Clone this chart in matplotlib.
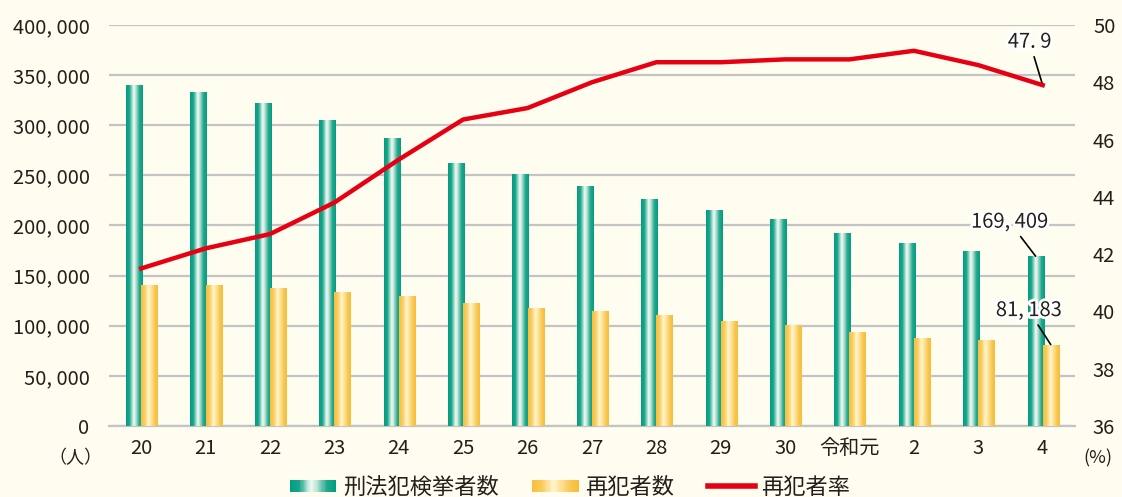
import numpy as np
import matplotlib
matplotlib.use('Agg')
import matplotlib.pyplot as plt
from matplotlib.colors import LinearSegmentedColormap
from matplotlib.legend_handler import HandlerBase
from matplotlib.patches import Rectangle
from matplotlib.lines import Line2D
import matplotlib.patheffects as pe

plt.rcParams['font.family'] = ['Noto Sans CJK JP', 'DejaVu Sans']

years = ['20', '21', '22', '23', '24', '25', '26', '27', '28', '29', '30', '令和元', '2', '3', '4']
arrested = [339752, 332888, 322620, 305631, 287021, 262486, 251115, 239355,
            226376, 215003, 206094, 192607, 182582, 175041, 169409]
repeat = [140939, 140431, 137614, 133724, 130077, 122638, 117795, 114944,
          111205, 104774, 100601, 93967, 88143, 86034, 81183]
rate = [41.5, 42.2, 42.7, 43.8, 45.3, 46.7, 47.1, 48.0, 48.7, 48.7, 48.8, 48.8, 49.1, 48.6, 47.9]

bg = '#fffdef'
red = '#e60012'
txt = '#231f1c'
green_cm = LinearSegmentedColormap.from_list('g', [
    (0, '#009e80'), (0.2, '#1aa68a'), (0.45, '#f0faf5'), (0.55, '#cfeadf'),
    (0.8, '#22a88c'), (1, '#009e80')])
yellow_cm = LinearSegmentedColormap.from_list('y', [
    (0, '#f7bf3f'), (0.2, '#f9cc5c'), (0.45, '#fff6cf'), (0.6, '#fde39a'),
    (0.85, '#f8c54b'), (1, '#f6bd3d')])


def fill_gradient(ax, bars, cmap):
    grad = np.linspace(0, 1, 64).reshape(1, -1)
    for b in bars:
        x0, y0 = b.get_x(), b.get_y()
        w, h = b.get_width(), b.get_height()
        im = ax.imshow(grad, cmap=cmap, aspect='auto', extent=(x0, x0 + w, y0, y0 + h),
                       zorder=b.get_zorder() + 0.1, interpolation='bilinear')
        im.set_clip_path(b)
        b.set_facecolor('none')
        b.set_edgecolor('none')


class GradientHandle:
    def __init__(self, cmap):
        self.cmap = cmap


class HandlerGradient(HandlerBase):
    def create_artists(self, legend, orig_handle, xdescent, ydescent, width, height, fontsize, trans):
        n = 40
        hh = height * 0.75
        y0 = -ydescent + (height - hh) / 2
        arts = []
        for i in range(n):
            r = Rectangle((-xdescent + width * i / n, y0), width / n * 1.05, hh,
                          facecolor=orig_handle.cmap(i / (n - 1)), edgecolor='none', transform=trans)
            arts.append(r)
        return arts


fig = plt.figure(figsize=(11.22, 4.97), dpi=100, facecolor=bg)
ax = fig.add_axes([0.0971, 0.1429, 0.8609, 0.8068], facecolor=bg)
ax2 = ax.twinx()

x = np.arange(len(years))
bw = 0.25
b1 = ax.bar(x - 0.11, arrested, width=bw, zorder=3)
b2 = ax.bar(x + 0.125, repeat, width=bw, zorder=3)
fill_gradient(ax, b1, green_cm)
fill_gradient(ax, b2, yellow_cm)

ax.set_xlim(-0.5, len(years) - 0.5)
ax.set_ylim(0, 400000)
yt = np.arange(0, 400001, 50000)
ax.set_yticks(yt)
ax.set_yticklabels(['{:,}'.format(v).replace(',', ', ') for v in yt])
ax.set_xticks(x)
ax.set_xticklabels(years)
ax.grid(axis='y', color='#c4c4c4', lw=1.6, zorder=0)
ax.set_axisbelow(True)
for s in ['top', 'right', 'left']:
    ax.spines[s].set_visible(False)
    ax2.spines[s].set_visible(False)
ax.spines['bottom'].set_color('#c4c4c4')
ax.spines['bottom'].set_linewidth(1.6)
ax2.spines['bottom'].set_visible(False)
ax.tick_params(axis='y', length=0, pad=14, labelsize=14.5, labelcolor=txt)
ax.tick_params(axis='x', length=0, pad=9, labelsize=14.5, labelcolor=txt)

ax2.plot(x, rate, color=red, lw=3.2, solid_joinstyle='round', zorder=5)
ax2.set_ylim(36, 50)
ax2.set_yticks(np.arange(36, 51, 2))
ax2.tick_params(axis='y', length=0, pad=13, labelsize=14.5, labelcolor=txt)

halo = [pe.withStroke(linewidth=4, foreground='white')]
ap = dict(arrowstyle='-', color='black', lw=1.2, shrinkA=1, shrinkB=0)
ax2.annotate('47. 9', xy=(x[-1], rate[-1]), xytext=(-13, 43), textcoords='offset pixels',
             ha='center', va='center', fontsize=14.5, color=txt, arrowprops=ap, path_effects=halo)
ax.annotate('169, 409', xy=(x[-1] - 0.11, arrested[-1]), xytext=(-26, 34), textcoords='offset pixels',
            ha='center', va='center', fontsize=14.5, color=txt, arrowprops=ap, path_effects=halo, zorder=6)
ax.annotate('81, 183', xy=(x[-1] + 0.125, repeat[-1]), xytext=(-22, 34), textcoords='offset pixels',
            ha='center', va='center', fontsize=14.5, color=txt, arrowprops=ap, path_effects=halo, zorder=6)

fig.text(75 / 1122, 1 - 458 / 497, '（人）', ha='center', va='center', fontsize=13, color=txt)
fig.text(1098 / 1122, 1 - 458 / 497, '(%)', ha='center', va='center', fontsize=13, color=txt)

handles = [GradientHandle(green_cm), GradientHandle(yellow_cm), Line2D([], [], color=red, lw=4)]
labels = ['刑法犯検挙者数', '再犯者数', '再犯者率']
fig.legend(handles, labels, handler_map={GradientHandle: HandlerGradient()},
           loc='center', bbox_to_anchor=(0.508, 1 - 487 / 497), ncol=3, frameon=False,
           fontsize=16, handlelength=2.1, handletextpad=0.3, columnspacing=1.5,
           labelcolor=txt, borderaxespad=0)

fig.savefig('out.png', dpi=100, facecolor=bg)
